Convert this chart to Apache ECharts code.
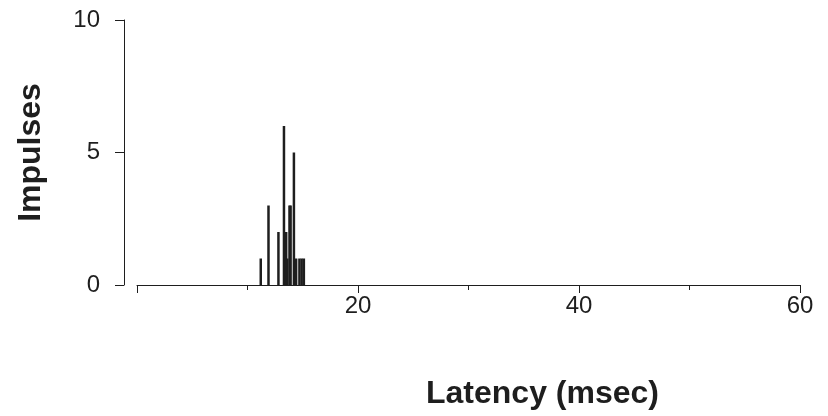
<!DOCTYPE html>
<html>
<head>
    <meta charset="utf-8">
    <title>Latency</title>
    <script src="https://cdn.jsdelivr.net/npm/echarts@6/dist/echarts.min.js"></script>
    <style type="text/css">
        * { margin: 0; padding: 0; }
        body { background: #fff; }
    </style>
</head>
<body>
<div id="main" style="width: 828px; height: 416px;"></div>
<script type="text/javascript">
    // latency bins (msec) and impulse counts
    var latency  = [11.2, 11.9, 12.8, 13.3, 13.5, 13.6, 13.8, 13.9, 14.2, 14.4, 14.7, 14.9, 15.1];
    var impulses = [1, 3, 2, 6, 2, 1, 3, 3, 5, 1, 1, 1, 1];

    var xLabels = [20, 40, 60];   // labelled ticks on the latency axis
    var yLabels = [0, 5, 10];

    var data = latency.map(function (t, i) { return [t, impulses[i]]; });

    var font = 'Liberation Sans, Arial, sans-serif';
    var ink = '#1e1e1e';

    var myChart = echarts.init(document.getElementById('main'));

    // grid 0 only carries the y axis (drawn a little left of where the x axis starts),
    // grid 1 carries the x axis and the bars
    var option = {
        animation: false,
        grid: [
            { left: 124, right: 28, top: 20, bottom: 131 },
            { left: 137, right: 28, top: 20, bottom: 131 }
        ],
        xAxis: [{
            gridIndex: 0, type: 'value', min: 0, max: 60, show: false
        }, {
            gridIndex: 1,
            type: 'value',
            min: 0, max: 60, interval: 20,
            name: 'Latency (msec)',
            nameLocation: 'middle',
            nameGap: 93,
            nameTextStyle: {
                fontFamily: font, fontSize: 32, fontWeight: 'bold', color: ink,
                padding: [0, 0, 0, 148]
            },
            axisLine: { show: true, lineStyle: { color: ink, width: 1 } },
            axisTick: { show: true, length: 8, lineStyle: { color: ink } },
            minorTick: { show: true, splitNumber: 2, length: 5, lineStyle: { color: ink } },
            axisLabel: {
                margin: 9,
                fontFamily: font, fontSize: 24, color: ink,
                formatter: function (v) { return xLabels.indexOf(v) >= 0 ? String(v) : ''; }
            },
            splitLine: { show: false }
        }],
        yAxis: [{
            gridIndex: 0,
            type: 'value',
            min: 0, max: 10, interval: 5,
            name: 'Impulses',
            nameLocation: 'middle',
            nameGap: 77,
            nameRotate: 90,
            nameTextStyle: { fontFamily: font, fontSize: 32, fontWeight: 'bold', color: ink },
            axisLine: { show: true, lineStyle: { color: ink, width: 1 } },
            axisTick: { show: true, length: 9, lineStyle: { color: ink } },
            axisLabel: {
                margin: 24,
                fontFamily: font, fontSize: 24, color: ink,
                formatter: function (v) { return yLabels.indexOf(v) >= 0 ? String(v) : ''; }
            },
            splitLine: { show: false }
        }, {
            gridIndex: 1, type: 'value', min: 0, max: 10, show: false
        }],
        series: [{
            type: 'bar',
            xAxisIndex: 1,
            yAxisIndex: 1,
            data: data,
            barWidth: 2.5,
            itemStyle: { color: ink },
            silent: true
        }]
    };

    myChart.setOption(option);

    window.addEventListener('resize', function () {
        myChart.resize();
    });
</script>
</body>
</html>
